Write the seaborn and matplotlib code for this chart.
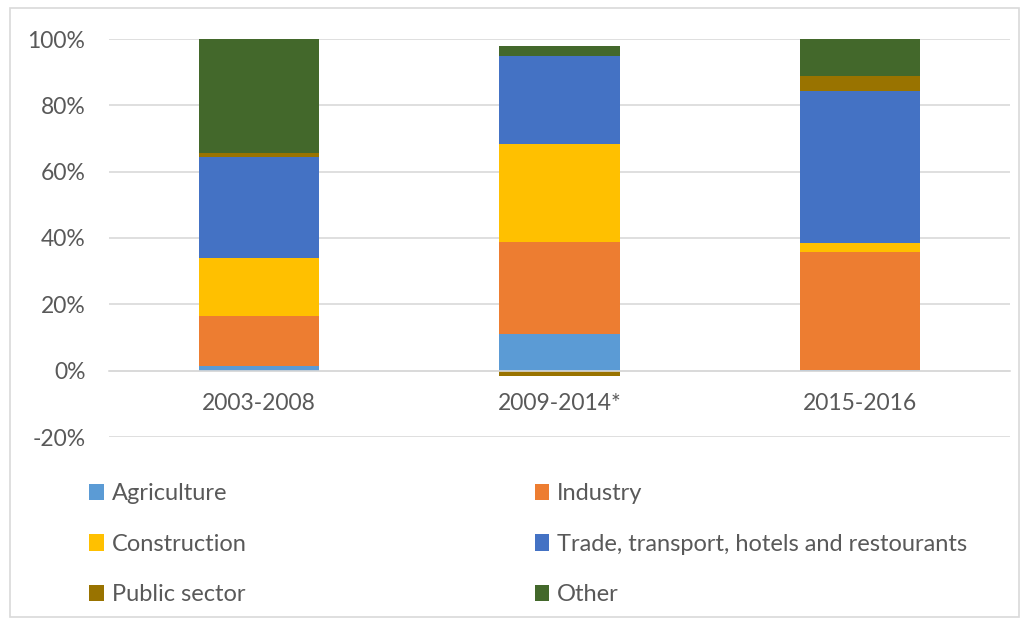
import numpy as np, pandas as pd
import seaborn as sns, matplotlib.pyplot as plt
from matplotlib.patches import Patch, Rectangle

periods = ["2003-2008", "2009-2014*", "2015-2016"]
sectors = ["Agriculture", "Industry", "Construction",
           "Trade, transport, hotels and restourants", "Public sector", "Other"]
agriculture  = [1.5, 11.0, 0.3]
industry     = [15.0, 27.9, 35.4]
construction = [17.5, 29.3, 2.8]
trade        = [30.3, 26.6, 45.9]
public       = [1.3, -1.6, 4.5]
other        = [34.4, 3.0, 11.1]
colors = ["#5B9BD5", "#ED7D31", "#FFC000", "#4472C4", "#997300", "#43682B"]

series = [agriculture, industry, construction, trade, public, other]
rows = []
for name, vals in zip(sectors, series):
    for p, v in zip(periods, vals):
        rows.append({"period": p, "sector": name, "share": v})
df = pd.DataFrame(rows)

sns.set_style("white")
plt.rcParams["font.family"] = ["Lato", "DejaVu Sans"]
grey = "#595959"

fig = plt.figure(figsize=(10.23, 6.2), dpi=100)
ax = fig.add_axes([109/1023, 1-437/620, (1010-109)/1023, (437-39)/620])

# stack positives upward and negatives downward, like Excel
pos_base = np.zeros(len(periods))
neg_base = np.zeros(len(periods))
for name, col in zip(sectors, colors):
    vals = df[df.sector == name].set_index("period").loc[periods, "share"].to_numpy()
    bottom = np.where(vals >= 0, pos_base, neg_base)
    sub = pd.DataFrame({"period": periods, "share": vals})
    sns.barplot(data=sub, x="period", y="share", order=periods, color=col,
                width=0.4, bottom=bottom, linewidth=0, saturation=1, ax=ax)
    pos_base += np.clip(vals, 0, None)
    neg_base += np.clip(vals, None, 0)

ax.set_xlim(-0.5, 2.5)
ax.set_ylim(-20, 100)
ax.set_yticks(range(-20, 101, 20))
ax.set_yticklabels([f"{t}%" for t in range(-20, 101, 20)])
ax.yaxis.grid(True, color="#D9D9D9", lw=1.2)
ax.set_axisbelow(True)
for s in ["left", "right", "top"]:
    ax.spines[s].set_visible(False)
ax.spines["bottom"].set_position(("data", 0))
ax.spines["bottom"].set_color("#D9D9D9")
ax.spines["bottom"].set_linewidth(1.2)
ax.tick_params(axis="y", length=0, pad=17, labelsize=16.5, labelcolor=grey)
ax.tick_params(axis="x", length=0, pad=16, labelsize=16.5, labelcolor=grey)
ax.set_xlabel("")
ax.set_ylabel("")

handles = [Patch(facecolor=c, edgecolor="none", label=s) for s, c in zip(sectors, colors)]
order = [0, 2, 4, 1, 3, 5]
leg = fig.legend([handles[i] for i in order], [sectors[i] for i in order],
                 ncol=2, loc="upper left", bbox_to_anchor=(80/1023, 1-474/620),
                 frameon=False, fontsize=17, labelcolor=grey,
                 handlelength=0.6, handleheight=0.7, handletextpad=0.35,
                 labelspacing=1.25, columnspacing=12.2, borderaxespad=0)

fig.patches.append(Rectangle((10/1023, 3/620), 1009/1023, 609/620, transform=fig.transFigure,
                             fill=False, edgecolor="#D9D9D9", lw=1.2))
fig.savefig("out.png", dpi=100)
